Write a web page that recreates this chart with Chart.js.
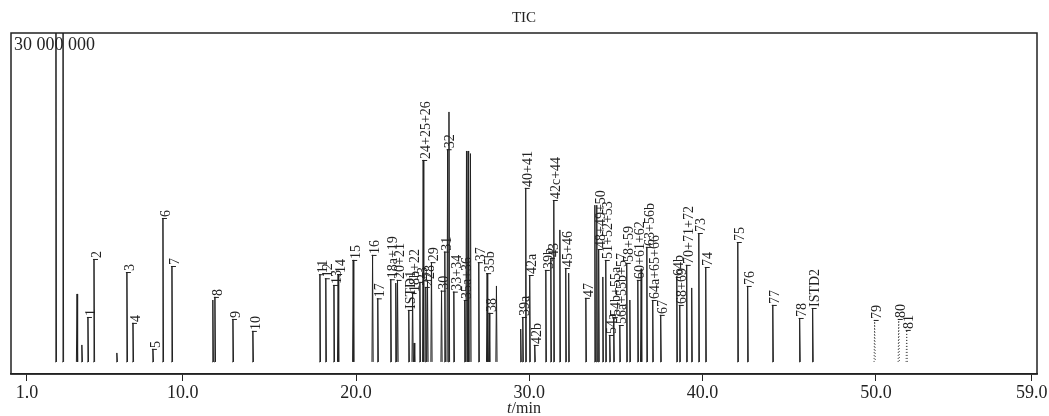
<!DOCTYPE html>
<html>
<head>
<meta charset="utf-8">
<script src="https://cdn.jsdelivr.net/npm/chart.js@4.4.1/dist/chart.umd.min.js"></script>
<style>
  html, body { margin: 0; padding: 0; background: #fff; }
  #wrap { width: 1049px; height: 416px; }
</style>
</head>
<body>
<div id="wrap"><canvas id="tic"></canvas></div>
<script>
// ─── DATA ─────────────────────────────────────────────────────────
// retention time (min), peak height (x 1 000 000 counts), peak label ('' = none)
const peakTimes = [
  2.67, 3.08, 3.89, 4.17, 4.52, 4.87, 6.19, 6.77, 7.12, 8.27, 8.85, 9.37,
  11.73, 11.85, 12.89, 14.04,
  17.91, 18.25, 18.72, 18.96, 19.83, 20.95, 21.25, 22.0, 22.29, 22.39,
  23.04, 23.26, 23.35, 23.68, 23.87, 24.02, 24.12, 24.35, 24.93, 25.12,
  25.28, 25.36, 25.64, 26.27, 26.37, 26.46, 26.6, 27.08, 27.56, 27.68, 28.1,
  29.5, 29.62, 29.79, 30.02, 30.31, 30.95, 31.24, 31.41, 31.76, 32.1, 32.27,
  33.26, 33.78, 33.89, 34.0, 34.24, 34.41, 34.64, 34.87, 35.22, 35.62, 35.8,
  36.26, 36.45, 36.78, 37.12, 37.58, 38.51, 38.68, 39.08, 39.37, 39.78, 40.18,
  42.03, 42.6, 44.05, 45.6, 46.35
];
const peakHeights = [
  45, 45, 6.2, 1.55, 4.1, 9.39, 0.82, 8.2, 3.56, 1.19, 13.13, 8.75,
  5.65, 5.93, 3.92, 2.83,
  8.0, 7.63, 7.02, 8.02, 9.3, 9.76, 5.8, 7.54, 7.2, 7.48,
  4.74, 6.29, 1.73, 7.3, 18.42, 6.84, 7.48, 9.1, 6.5, 10.06,
  19.4, 22.8, 6.41, 5.65, 19.24, 19.24, 19.0, 9.1, 8.1, 4.47, 6.93,
  3.0, 4.1, 15.87, 7.93, 1.55, 8.39, 9.48, 14.77, 12.04, 8.57, 8.1,
  5.84, 14.3, 14.3, 10.3, 7.75, 9.3, 2.46, 4.1, 3.37, 9.03, 5.65,
  7.48, 8.5, 10.49, 5.65, 4.29, 7.75, 5.2, 8.85, 6.75, 11.76, 8.66,
  10.94, 6.93, 5.2, 4.01, 4.92
];
const peakLabels = [
  '', '', '', '', '1', '2', '', '3', '4', '5', '6', '7',
  '', '8', '9', '10',
  '11', '12', '13', '14', '15', '16', '17', '18a+19', '', '20+21',
  'ISTD1', '18b+22', '', '23', '24+25+26', '27', '28', '29', '30', '31',
  '32', '', '33+34', '35a+36', '', '', '', '37', '35b', '38', '',
  '', '39a', '40+41', '42a', '42b', '39b', '43', '42c+44', '', '45+46', '',
  '47', '', '', '48+49+50', '', '51+52+53', '54a', '54b+55a', '56a+55b+57', '58+59', '',
  '60+61+62', '', '63+56b', '64a+65+66', '67', '64b', '68+69', '70+71+72', '', '73', '74',
  '75', '76', '77', '78', 'ISTD2'
];

// faint (dotted) peaks at the end of the run
const faintTimes   = [49.93, 51.32, 51.78];
const faintHeights = [3.83, 3.92, 2.92];
const faintLabels  = ['79', '80', '81'];

const xTicks    = [1, 10, 20, 30, 40, 50, 59];
const fullScale = 30;          // top of the y range, in millions
const SERIF     = "'Liberation Serif', 'DejaVu Serif', serif";
const INK       = '#222';

// ─── PEAKS AS SPIKES ──────────────────────────────────────────────
const HALF = 0.035;
function spikes(ts, hs) {
  const pts = [];
  ts.forEach((t, i) => {
    pts.push({ x: t - HALF, y: 0 }, { x: t, y: hs[i] }, { x: t + HALF, y: 0 }, { x: t + HALF, y: null });
  });
  return pts;
}

// ─── PLUGIN: frame, full-scale value, peak labels, axis title ─────
const decor = {
  id: 'decor',
  afterDatasetsDraw(chart) {
    const { ctx, chartArea: a, scales: { x, y } } = chart;
    ctx.save();
    ctx.strokeStyle = INK;
    ctx.lineWidth = 1.5;
    ctx.strokeRect(a.left, a.top, a.right - a.left, a.bottom - a.top);

    ctx.fillStyle = INK;
    ctx.font = '18px ' + SERIF;
    ctx.textAlign = 'left';
    ctx.textBaseline = 'top';
    const fs = String(Math.round(y.max * 1e6)).replace(/\B(?=(\d{3})+(?!\d))/g, ' ');
    ctx.fillText(fs, a.left + 3, a.top + 3);

    // rotated peak labels
    ctx.font = '14px ' + SERIF;
    ctx.lineWidth = 1;
    const put = (ts, hs, ls) => ts.forEach((t, i) => {
      if (!ls[i]) return;
      const px = x.getPixelForValue(t);
      const py = y.getPixelForValue(hs[i]);
      ctx.beginPath();
      ctx.moveTo(px - 1, py + 0.5);
      ctx.lineTo(px + 4, py + 0.5);
      ctx.stroke();
      ctx.save();
      ctx.translate(px + 3, py - 1);
      ctx.rotate(-Math.PI / 2);
      ctx.textAlign = 'left';
      ctx.textBaseline = 'middle';
      ctx.fillText(ls[i], 0, 0);
      ctx.restore();
    });
    put(peakTimes, peakHeights, peakLabels);
    put(faintTimes, faintHeights, faintLabels);

    // x axis title: italic t + /min
    const cx = (a.left + a.right) / 2;
    ctx.textBaseline = 'alphabetic';
    ctx.font = 'italic 16px ' + SERIF;
    const w1 = ctx.measureText('t').width;
    ctx.font = '16px ' + SERIF;
    const w2 = ctx.measureText('/min').width;
    const sx = cx - (w1 + w2) / 2;
    ctx.font = 'italic 16px ' + SERIF;
    ctx.fillText('t', sx, 413);
    ctx.font = '16px ' + SERIF;
    ctx.fillText('/min', sx + w1, 413);
    ctx.restore();
  }
};

// ─── CHART ────────────────────────────────────────────────────────
new Chart(document.getElementById('tic'), {
  type: 'line',
  data: {
    datasets: [
      {
        data: spikes(peakTimes, peakHeights),
        borderColor: INK,
        borderWidth: 1,
        pointRadius: 0,
        tension: 0,
        spanGaps: false,
      },
      {
        data: spikes(faintTimes, faintHeights),
        borderColor: '#444',
        borderWidth: 1,
        borderDash: [1, 2],
        pointRadius: 0,
        tension: 0,
        spanGaps: false,
      },
    ],
  },
  options: {
    responsive: true,
    maintainAspectRatio: false,
    animation: false,
    layout: { padding: { left: 11, right: 12, top: 0, bottom: 0 } },
    plugins: {
      legend: { display: false },
      tooltip: { enabled: false },
      title: {
        display: true,
        text: 'TIC',
        color: INK,
        font: { family: SERIF, size: 15, weight: 'normal' },
        padding: { top: 9, bottom: 6 },
      },
    },
    scales: {
      x: {
        type: 'linear',
        min: 0.08,
        max: 59.3,
        afterBuildTicks: s => { s.ticks = xTicks.map(v => ({ value: v })); },
        afterFit: s => { s.height = 42; },
        ticks: {
          color: INK,
          padding: 1,
          maxRotation: 0,
          font: { family: SERIF, size: 18 },
          callback: v => Number(v).toFixed(1),
        },
        grid: { drawOnChartArea: false, tickLength: 7, color: INK },
        border: { display: true, color: INK, width: 1.5 },
      },
      y: { display: false, min: -1.1, max: fullScale },
    },
  },
  plugins: [decor],
});
</script>
</body>
</html>
